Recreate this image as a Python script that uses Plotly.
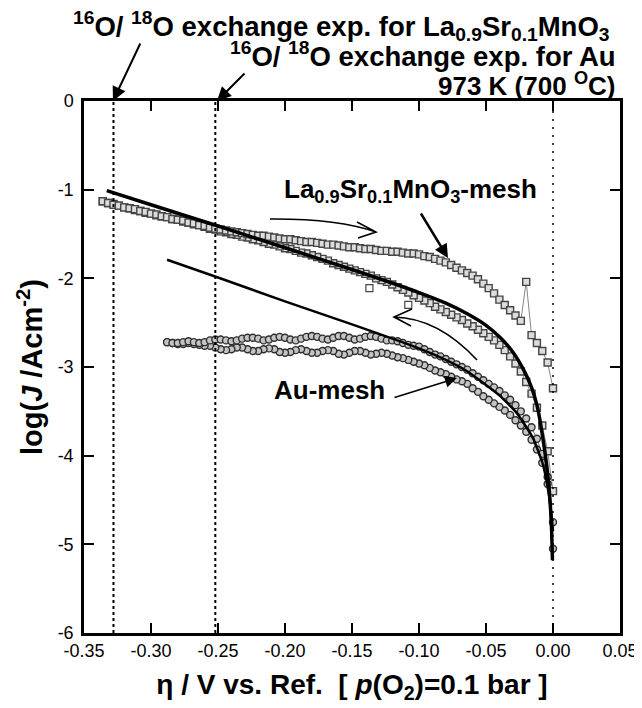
import plotly.graph_objects as go

# ---------------- data ----------------
lsm_eta = [-0.336, -0.332, -0.328, -0.324, -0.320, -0.316, -0.312, -0.308, -0.304, -0.300,
           -0.296, -0.292, -0.288, -0.284, -0.280, -0.276, -0.272, -0.268, -0.264, -0.260,
           -0.256, -0.252, -0.248, -0.244, -0.240, -0.236, -0.232, -0.228, -0.224, -0.220,
           -0.216, -0.212, -0.208, -0.204, -0.200, -0.196, -0.192, -0.188, -0.184, -0.180,
           -0.176, -0.172, -0.168, -0.164, -0.160, -0.156, -0.152, -0.148, -0.144, -0.140,
           -0.136, -0.132, -0.128, -0.124, -0.120, -0.116, -0.112, -0.108, -0.104, -0.100,
           -0.096, -0.092, -0.088, -0.084, -0.080, -0.076, -0.072, -0.068, -0.064, -0.060,
           -0.056, -0.052, -0.048, -0.044, -0.040, -0.036, -0.032, -0.028, -0.024, -0.020,
           -0.016, -0.012, -0.008, -0.004, 0.000]
# cathodic sweep (arrow <-), lower branch
lsm_sweep_out = [-1.13, -1.15, -1.16, -1.18, -1.20, -1.21, -1.23, -1.24, -1.26, -1.27,
                 -1.29, -1.30, -1.31, -1.33, -1.34, -1.36, -1.37, -1.39, -1.40, -1.42,
                 -1.44, -1.45, -1.47, -1.48, -1.50, -1.51, -1.53, -1.54, -1.56, -1.57,
                 -1.59, -1.61, -1.62, -1.64, -1.66, -1.67, -1.69, -1.71, -1.72, -1.74,
                 -1.76, -1.78, -1.80, -1.83, -1.85, -1.87, -1.89, -1.91, -1.93, -1.95,
                 -1.97, -2.00, -2.02, -2.04, -2.07, -2.10, -2.13, -2.16, -2.19, -2.22,
                 -2.25, -2.28, -2.32, -2.35, -2.38, -2.41, -2.44, -2.47, -2.51, -2.54,
                 -2.58, -2.62, -2.66, -2.70, -2.75, -2.81, -2.88, -2.96, -3.05, -3.17,
                 -3.30, -3.46, -3.66, -3.95, -4.40]
# return sweep (arrow ->), upper branch
lsm_sweep_back = [-1.13, -1.15, -1.17, -1.18, -1.20, -1.21, -1.22, -1.24, -1.25, -1.27,
                  -1.28, -1.30, -1.31, -1.33, -1.34, -1.35, -1.37, -1.38, -1.40, -1.41,
                  -1.43, -1.44, -1.45, -1.46, -1.47, -1.48, -1.49, -1.50, -1.51, -1.52,
                  -1.52, -1.53, -1.54, -1.55, -1.56, -1.56, -1.57, -1.58, -1.59, -1.59,
                  -1.60, -1.61, -1.62, -1.62, -1.63, -1.64, -1.65, -1.65, -1.66, -1.67,
                  -1.67, -1.68, -1.69, -1.69, -1.70, -1.70, -1.71, -1.72, -1.72, -1.73,
                  -1.75, -1.76, -1.78, -1.80, -1.82, -1.85, -1.88, -1.91, -1.94, -1.97,
                  -2.01, -2.06, -2.11, -2.17, -2.24, -2.30, -2.36, -2.42, -2.48, -2.04,
                  -2.64, -2.73, -2.82, -2.95, -3.24]
lsm_stray_eta = [-0.137, -0.108]
lsm_stray_logj = [-2.11, -2.30]

au_eta = [-0.288, -0.284, -0.280, -0.276, -0.272, -0.268, -0.264, -0.260, -0.256, -0.252,
          -0.248, -0.244, -0.240, -0.236, -0.232, -0.228, -0.224, -0.220, -0.216, -0.212,
          -0.208, -0.204, -0.200, -0.196, -0.192, -0.188, -0.184, -0.180, -0.176, -0.172,
          -0.168, -0.164, -0.160, -0.156, -0.152, -0.148, -0.144, -0.140, -0.136, -0.132,
          -0.128, -0.124, -0.120, -0.116, -0.112, -0.108, -0.104, -0.100, -0.096, -0.092,
          -0.088, -0.084, -0.080, -0.076, -0.072, -0.068, -0.064, -0.060, -0.056, -0.052,
          -0.048, -0.044, -0.040, -0.036, -0.032, -0.028, -0.024, -0.020, -0.016, -0.012,
          -0.008, -0.004, 0.000]
au_upper = [-2.72, -2.73, -2.73, -2.72, -2.71, -2.72, -2.73, -2.72, -2.70, -2.69,
            -2.69, -2.70, -2.71, -2.70, -2.68, -2.67, -2.67, -2.68, -2.70, -2.69,
            -2.67, -2.66, -2.67, -2.69, -2.70, -2.68, -2.66, -2.65, -2.66, -2.68,
            -2.69, -2.67, -2.65, -2.65, -2.67, -2.69, -2.68, -2.66, -2.65, -2.66,
            -2.68, -2.70, -2.70, -2.71, -2.73, -2.75, -2.76, -2.77, -2.80, -2.83,
            -2.86, -2.88, -2.91, -2.94, -2.97, -3.00, -3.03, -3.07, -3.11, -3.15,
            -3.19, -3.23, -3.27, -3.32, -3.37, -3.43, -3.50, -3.58, -3.68, -3.81,
            -3.98, -4.24, -4.75]
au_lower = [-2.72, -2.73, -2.74, -2.74, -2.73, -2.74, -2.75, -2.76, -2.76, -2.78,
            -2.80, -2.81, -2.80, -2.78, -2.78, -2.80, -2.82, -2.82, -2.80, -2.79,
            -2.80, -2.83, -2.84, -2.83, -2.81, -2.80, -2.82, -2.84, -2.84, -2.82,
            -2.81, -2.82, -2.85, -2.86, -2.84, -2.82, -2.82, -2.84, -2.86, -2.85,
            -2.84, -2.85, -2.87, -2.89, -2.90, -2.92, -2.94, -2.96, -2.98, -3.01,
            -3.04, -3.06, -3.08, -3.11, -3.14, -3.16, -3.19, -3.24, -3.28, -3.33,
            -3.37, -3.41, -3.45, -3.49, -3.54, -3.60, -3.66, -3.73, -3.82, -3.93,
            -4.08, -4.32, -5.05]

lsm_fit_eta = [-0.333, -0.30, -0.25, -0.20, -0.15, -0.10, -0.08, -0.064, -0.05, -0.04,
               -0.03, -0.022, -0.016, -0.012, -0.0095, -0.006, -0.004, -0.0022, -0.001, -0.0004]
lsm_fit_logj = [-1.01, -1.17, -1.41, -1.655, -1.90, -2.16, -2.28, -2.40, -2.53, -2.66,
                -2.83, -3.03, -3.23, -3.43, -3.62, -3.96, -4.20, -4.50, -4.85, -5.18]
au_fit_eta = [-0.288, -0.25, -0.20, -0.15, -0.10, -0.08, -0.065, -0.052, -0.04, -0.027,
              -0.015, -0.0075, -0.003, -0.001, 0.0]
au_fit_logj = [-1.79, -1.99, -2.26, -2.52, -2.79, -2.92, -3.04, -3.18, -3.32, -3.52,
               -3.80, -4.10, -4.45, -4.70, -4.85]

exchange_eta = [-0.328, -0.252]   # 16O/18O exchange experiments
rest_eta = [0.0]

x_tick_vals = [-0.35, -0.30, -0.25, -0.20, -0.15, -0.10, -0.05, 0.00, 0.05]
x_tick_text = ["-0.35", "-0.30", "-0.25", "-0.20", "-0.15", "-0.10", "-0.05", "0.00", "0.05"]
y_tick_vals = [0, -1, -2, -3, -4, -5, -6]
y_tick_text = ["0", "-1", "-2", "-3", "-4", "-5", "-6"]

# ---------------- layout geometry ----------------
# the page body has an 8 px margin, so the figure is 8 px smaller and
# every screen position below is given in window pixels.
OFF = 8
W, H = 642 - OFF, 708 - OFF
SL, ST, SR, SB = 84, 101, 620, 633          # plot box in window pixels
X0, X1 = -0.35, 0.05
Y0, Y1 = -6, 0
PW, PH = SR - SL, SB - ST


def dx(px):
    return X0 + (px - SL) / PW * (X1 - X0)


def dy(py):
    return Y1 - (py - ST) / PH * (Y1 - Y0)


def px_(px):
    return (px - SL) / PW


def py_(py):
    return (SB - py) / PH


FONT = "Liberation Sans, Arial, Helvetica, sans-serif"

fig = go.Figure()

sq = dict(symbol="square", size=7, color="#dcdcdc", line=dict(color="#454545", width=1.4))
fig.add_trace(go.Scatter(
    x=lsm_eta[::-1] + lsm_eta, y=lsm_sweep_out[::-1] + lsm_sweep_back,
    mode="lines+markers", line=dict(color="#666666", width=0.8), marker=sq,
    showlegend=False))
fig.add_trace(go.Scatter(x=lsm_stray_eta, y=lsm_stray_logj, mode="markers",
                         marker=dict(symbol="square", size=7, color="white",
                                     line=dict(color="#454545", width=1.2)),
                         showlegend=False))
fig.add_trace(go.Scatter(
    x=au_eta[::-1] + au_eta, y=au_lower[::-1] + au_upper,
    mode="lines+markers", line=dict(color="#555555", width=0.8),
    marker=dict(symbol="circle", size=7, color="#c4c4c4", line=dict(color="#2e2e2e", width=1.4)),
    showlegend=False))
fig.add_trace(go.Scatter(
    x=lsm_fit_eta, y=lsm_fit_logj, mode="lines",
    line=dict(color="black", width=3.5, shape="spline", smoothing=0.5),
    showlegend=False))
fig.add_trace(go.Scatter(
    x=au_fit_eta, y=au_fit_logj, mode="lines",
    line=dict(color="black", width=2.5, shape="spline", smoothing=0.5),
    showlegend=False))

# reference lines
for e in exchange_eta:
    fig.add_shape(type="line", xref="x", yref="y", x0=e, x1=e, y0=Y0, y1=Y1,
                  line=dict(color="black", width=2, dash="dot"))
for e in rest_eta:
    fig.add_shape(type="line", xref="x", yref="y", x0=e, x1=e, y0=Y0, y1=Y1,
                  line=dict(color="black", width=1.5, dash="2px,6px"))


def curved_arrow(p0, c, p2, h1, h2):
    path = "M {},{} Q {},{} {},{} M {},{} L {},{} L {},{}".format(
        dx(p0[0]), dy(p0[1]), dx(c[0]), dy(c[1]), dx(p2[0]), dy(p2[1]),
        dx(h1[0]), dy(h1[1]), dx(p2[0]), dy(p2[1]), dx(h2[0]), dy(h2[1]))
    fig.add_shape(type="path", xref="x", yref="y", path=path,
                  line=dict(color="black", width=1.6))


curved_arrow((270, 219), (337, 218.5), (376, 232), (357, 222), (358, 238))
curved_arrow((477, 360), (438, 318), (394, 317), (412, 309), (411, 326))

lab_font = dict(family=FONT, size=26, color="black")

fig.add_annotation(xref="paper", yref="paper", x=px_(612), y=py_(26), xanchor="right", yanchor="middle",
                   text="<b><sup>16</sup>O/ <sup>18</sup>O exchange exp. for La<sub>0.9</sub>Sr<sub>0.1</sub>MnO<sub>3</sub></b>",
                   showarrow=False, font=dict(family=FONT, size=27.5, color="black"))
fig.add_annotation(xref="paper", yref="paper", x=px_(618), y=py_(55), xanchor="right", yanchor="middle",
                   text="<b><sup>16</sup>O/ <sup>18</sup>O exchange exp. for Au</b>",
                   showarrow=False, font=dict(family=FONT, size=27.5, color="black"))
fig.add_annotation(xref="paper", yref="paper", x=px_(617), y=py_(84), xanchor="right", yanchor="middle",
                   text="<b>973 K (700 <sup>O</sup>C)</b>",
                   showarrow=False, font=dict(family=FONT, size=26, color="black"))
fig.add_annotation(xref="x", yref="y", x=dx(410), y=dy(190), xanchor="center", yanchor="middle",
                   text="<b>La<sub>0.9</sub>Sr<sub>0.1</sub>MnO<sub>3</sub>-mesh</b>",
                   showarrow=False, font=lab_font)
fig.add_annotation(xref="x", yref="y", x=dx(329), y=dy(390), xanchor="center", yanchor="middle",
                   text="<b>Au-mesh</b>", showarrow=False, font=lab_font)


def arrow(tail, tip, width, size):
    fig.add_annotation(xref="x", yref="y", axref="x", ayref="y",
                       x=dx(tip[0]), y=dy(tip[1]), ax=dx(tail[0]), ay=dy(tail[1]),
                       text="", showarrow=True, arrowhead=2, arrowsize=size,
                       arrowwidth=width, arrowcolor="black", standoff=0, startstandoff=0)


arrow((141, 42), (113, 101), 2, 1.4)
arrow((246, 72), (217, 101), 2, 1.4)
arrow((420, 212), (448, 258), 2.5, 1.1)
arrow((393, 398), (457, 378), 1.5, 1.6)

axis_common = dict(showline=True, linecolor="black", linewidth=2.5, mirror="ticks",
                   ticks="inside", ticklen=10, tickwidth=2, tickcolor="black",
                   showgrid=False, zeroline=False,
                   tickfont=dict(family=FONT, size=18, color="black"))

fig.update_layout(
    width=W, height=H,
    margin=dict(l=SL - OFF, r=W - (SR - OFF), t=ST - OFF, b=H - (SB - OFF), autoexpand=False),
    paper_bgcolor="white", plot_bgcolor="white",
    xaxis=dict(range=[X0, X1], tickvals=x_tick_vals, ticktext=x_tick_text,
               title=dict(text="<b>\u03b7 / V vs. Ref.  [ <i>p</i>(O<sub>2</sub>)=0.1 bar ]</b>",
                          font=dict(family=FONT, size=28, color="black"), standoff=15),
               **axis_common),
    yaxis=dict(range=[Y0, Y1], tickvals=y_tick_vals, ticktext=y_tick_text,
               ticklabelstandoff=4,
               title=dict(text="<b>log(<i>J</i> /Acm<sup>-2</sup>)</b>",
                          font=dict(family=FONT, size=29, color="black"), standoff=7),
               **axis_common),
)

fig.write_html("out.html")
